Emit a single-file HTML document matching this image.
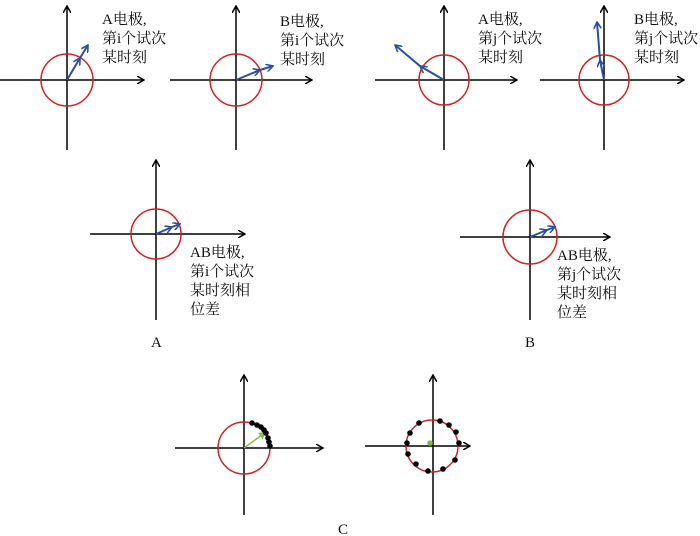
<!DOCTYPE html>
<html><head><meta charset="utf-8"><style>body{margin:0;background:#fff}svg{display:block}text{font-family:"Liberation Serif","Noto Serif CJK SC",serif;font-size:15px;fill:#111}</style></head><body>
<svg width="700" height="536" viewBox="0 0 700 536">
<defs>
<marker id="ka" markerWidth="8" markerHeight="8" refX="7" refY="4" orient="auto" markerUnits="userSpaceOnUse"><path d="M0,0 L7,4 L0,8" fill="none" stroke="#000" stroke-width="1.5"/></marker>
<marker id="ba" markerWidth="8" markerHeight="8" refX="7" refY="4" orient="auto" markerUnits="userSpaceOnUse"><path d="M0,0 L7,4 L0,8" fill="none" stroke="#2a4fa0" stroke-width="1.6"/></marker>
<marker id="ga" markerWidth="8" markerHeight="8" refX="7" refY="4" orient="auto" markerUnits="userSpaceOnUse"><path d="M0,0 L7,4 L0,8 z" fill="#7ac142"/></marker>
</defs>
<g stroke="#000" stroke-width="1.5" marker-end="url(#ka)">
<line x1="67" y1="150" x2="67" y2="6"/><line x1="0" y1="80" x2="144" y2="80"/>
<line x1="236" y1="150" x2="236" y2="6"/><line x1="170" y1="80" x2="312" y2="80"/>
<line x1="444" y1="150" x2="444" y2="6"/><line x1="375" y1="80" x2="517" y2="80"/>
<line x1="604" y1="150" x2="604" y2="6"/><line x1="540" y1="80" x2="684" y2="80"/>
<line x1="156" y1="320" x2="156" y2="160"/><line x1="90" y1="234" x2="245" y2="234"/>
<line x1="530" y1="320" x2="530" y2="160"/><line x1="460" y1="237" x2="610" y2="237"/>
<line x1="244" y1="515" x2="244" y2="375"/><line x1="175" y1="448" x2="323" y2="448"/>
<line x1="433" y1="515" x2="433" y2="375"/><line x1="365" y1="446" x2="470" y2="446"/>
</g>
<g fill="none" stroke="#d42020" stroke-width="1.5">
<circle cx="67" cy="80" r="26"/><circle cx="236" cy="80" r="26"/><circle cx="444" cy="80" r="25"/><circle cx="604" cy="80" r="25"/>
<circle cx="156" cy="234" r="25"/><circle cx="530" cy="237" r="27"/><circle cx="244" cy="448" r="26"/><circle cx="432" cy="446" r="26"/>
</g>
<g stroke="#2a4fa0" stroke-width="2" marker-end="url(#ba)" marker-mid="url(#ba)" fill="none">
<polyline points="67,80 80,58 88,45"/>
<polyline points="236,80 260,70 273,66"/>
<polyline points="444,80 420,66 395,45"/>
<polyline points="604,80 600,60 597,22"/>
<polyline points="156,234 172,227 180,224"/>
<polyline points="530,237 547,230 555,227"/>
</g>
<line x1="244" y1="448" x2="266" y2="432" stroke="#7ac142" stroke-width="1.5" marker-end="url(#ga)"/>
<g fill="#000">
<circle cx="252" cy="423" r="2.8"/><circle cx="257" cy="425" r="2.8"/><circle cx="261" cy="427" r="2.8"/><circle cx="264" cy="430" r="2.8"/><circle cx="266" cy="433" r="2.8"/><circle cx="268" cy="438" r="2.8"/><circle cx="269" cy="442" r="2.8"/><circle cx="270" cy="446" r="2.8"/>
<circle cx="440" cy="421" r="2.8"/><circle cx="449" cy="425" r="2.8"/><circle cx="456" cy="432" r="2.8"/><circle cx="459" cy="443" r="2.8"/><circle cx="455" cy="460" r="2.8"/><circle cx="443" cy="469" r="2.8"/><circle cx="428" cy="471" r="2.8"/><circle cx="416" cy="464" r="2.8"/><circle cx="408" cy="454" r="2.8"/><circle cx="407" cy="443" r="2.8"/><circle cx="410" cy="433" r="2.8"/><circle cx="419" cy="423" r="2.8"/>
</g>
<circle cx="430" cy="443" r="2.8" fill="#7ac142"/>
<text x="102" y="24">A电极,</text><text x="102" y="43">第i个试次</text><text x="102" y="62">某时刻</text>
<text x="280" y="26">B电极,</text><text x="280" y="45">第i个试次</text><text x="280" y="64">某时刻</text>
<text x="478" y="24">A电极,</text><text x="478" y="43">第j个试次</text><text x="478" y="62">某时刻</text>
<text x="634" y="24">B电极,</text><text x="634" y="43">第j个试次</text><text x="634" y="62">某时刻</text>
<text x="190" y="257">AB电极,</text><text x="190" y="276">第i个试次</text><text x="190" y="295">某时刻相</text><text x="190" y="314">位差</text>
<text x="557" y="260">AB电极,</text><text x="557" y="279">第j个试次</text><text x="557" y="298">某时刻相</text><text x="557" y="317">位差</text>
<text x="151" y="347">A</text><text x="525" y="347">B</text><text x="338" y="534">C</text>
</svg>
</body></html>
